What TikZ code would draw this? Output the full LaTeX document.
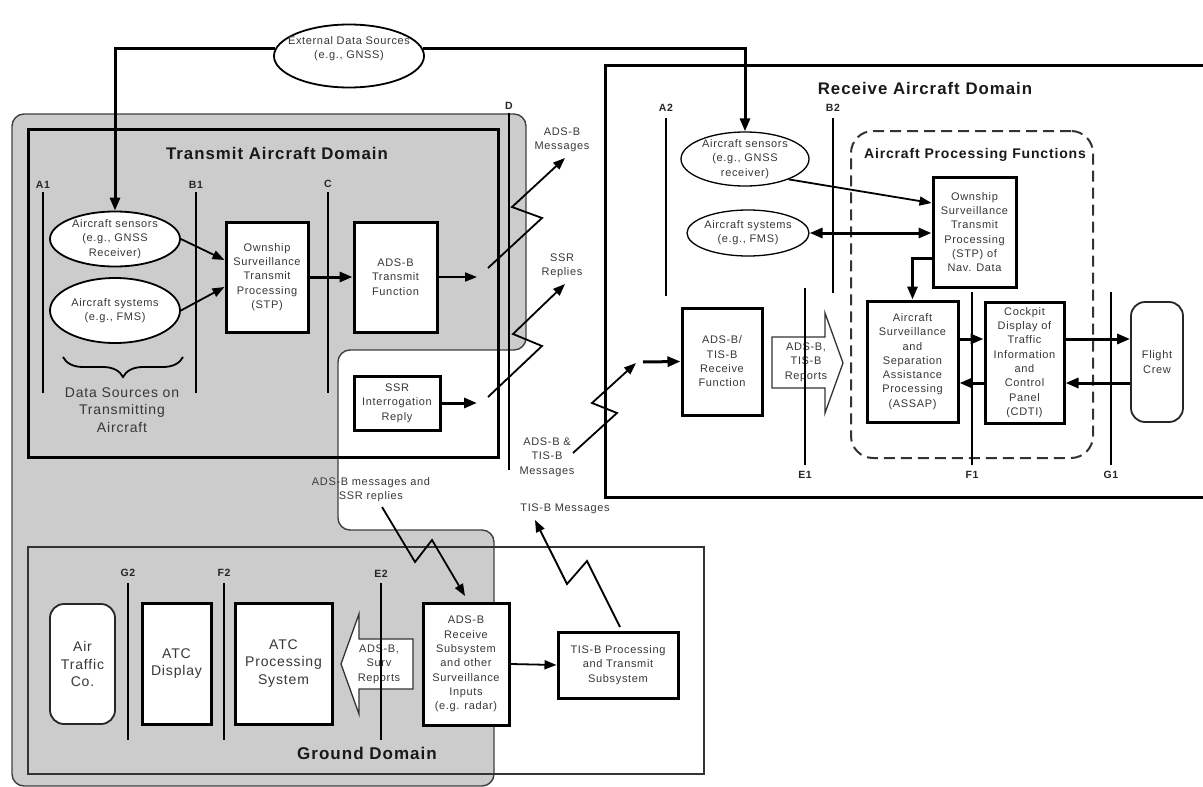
\documentclass[tikz,border=0pt]{standalone}
\usepackage{fontspec}
\setmainfont{Liberation Sans}[LetterSpace=6]
\usetikzlibrary{arrows.meta,shapes.geometric,decorations.pathreplacing,calc}
\definecolor{domaingray}{RGB}{204,204,204}
\definecolor{ink}{RGB}{55,55,55}
\newcommand\txtbody{\fontsize{11}{14.3}\selectfont}
\newcommand\txtbig{\fontsize{14}{17.5}\selectfont}
\newcommand\txttitle{\bfseries\fontsize{16.8}{20}\selectfont}
\newcommand\txtsub{\bfseries\fontsize{14}{17}\selectfont}
\newcommand\txtground{\bfseries\fontsize{17}{20}\selectfont}
\newcommand\txttag{\bfseries\fontsize{10.5}{12}\selectfont}
\tikzset{
  region/.style={draw=black!75, line width=1.4pt, fill=domaingray},
  domainbox/.style={draw=black, line width=3pt, inner sep=0pt},
  fbox/.style={draw=black, line width=3pt, fill=white, inner sep=0pt, align=center, text=ink, font=\txtbody},
  obox/.style={draw=black!85, line width=1.8pt, fill=white, rounded corners=14pt, inner sep=0pt, align=center, text=ink, font=\txtbig},
  srcell/.style={ellipse, draw=black, line width=1.8pt, fill=white, inner sep=0pt},
  lbl/.style={align=center, text=ink, font=\txtbody, inner sep=0pt},
  ttl/.style={font=\txttitle, text=black!90, inner sep=0pt},
  tag/.style={font=\txttag, text=black!85, inner sep=0pt},
  bnd/.style={draw=black, line width=2pt},
  flow/.style={draw=black, line width=1.8pt, -{Triangle[length=12pt,width=9pt]}},
  heavyflow/.style={draw=black, line width=3pt, -{Triangle[length=13pt,width=10pt]}},
  bothflow/.style={draw=black, line width=3pt, {Triangle[length=13pt,width=10pt]}-{Triangle[length=13pt,width=10pt]}},
  bigarrow/.style={draw=black!80, line width=1.3pt, fill=white},
}
\begin{document}
\begin{tikzpicture}[x=1pt,y=-1pt]
\useasboundingbox (0,0) rectangle (1203,787);

% shaded area of the aircraft and ground equipment
\draw[region, rounded corners=12pt] (12,114) -- (526,114) -- (526,350) -- (338,350)
  -- (338,530) -- (494,530) -- (494,786) -- (12,786) -- cycle;

% domains
\node[draw=black!80, line width=1.6pt, inner sep=0pt, minimum width=676pt, minimum height=227pt] (gnd) at (366,660.5) {};
\node[domainbox, minimum width=470pt, minimum height=328pt] (txd) at (263,293) {};
\node[domainbox, minimum width=610pt, minimum height=432pt] (rxd) at (910,281) {};
\node[draw=black!80, line width=2pt, dash pattern=on 11pt off 6pt, rounded corners=22pt,
  inner sep=0pt, minimum width=242pt, minimum height=327pt] (apf) at (972,294.5) {};

\node[ttl] (txdt) at (277,153) {Transmit Aircraft Domain};
\node[ttl] (rxdt) at (925,88) {Receive Aircraft Domain};
\node[ttl, font=\txtsub] (apft) at (975,155) {Aircraft Processing Functions};
\node[ttl, font=\txtground] (gndt) at (367,753) {Ground Domain};

% external source
\node[srcell, minimum width=150pt, minimum height=63pt] (ext) at (349,56) {};
\node[lbl] (extt) at (349,49) {External Data Sources\\(e.g., GNSS)};

% transmit aircraft
\node[srcell, minimum width=130pt, minimum height=55pt] (sens1) at (115,239) {};
\node[lbl] (sens1t) at (sens1) {Aircraft sensors\\(e.g., GNSS\\Receiver)};
\node[srcell, minimum width=130pt, minimum height=65pt] (sys1) at (115,310.5) {};
\node[lbl] (sys1t) at (sys1) {Aircraft systems\\(e.g., FMS)};
\node[fbox, minimum width=82pt, minimum height=110pt] (stp1) at (267,277) {Ownship\\Surveillance\\Transmit\\Processing\\(STP)};
\node[fbox, minimum width=83pt, minimum height=110pt] (adsbt) at (395.5,277) {ADS-B\\Transmit\\Function};
\node[fbox, minimum width=86pt, minimum height=54pt] (ssr) at (397,403) {SSR\\Interrogation\\Reply};
\draw[line width=1.8pt, decorate, decoration={brace, amplitude=20pt, mirror}] (63,357) -- (183,357);
\node[lbl, font=\txtbig] (dsrc) at (122,410) {Data Sources on\\Transmitting\\Aircraft};

% receive aircraft
\node[srcell, line width=1.3pt, minimum width=128pt, minimum height=54pt] (rsens) at (745,159) {};
\node[lbl] (rsenst) at (rsens) {Aircraft sensors\\(e.g., GNSS\\receiver)};
\node[srcell, line width=1.3pt, minimum width=122pt, minimum height=46pt] (rsys) at (748,233) {};
\node[lbl] (rsyst) at (rsys) {Aircraft systems\\(e.g., FMS)};
\node[fbox, minimum width=83pt, minimum height=110pt] (rstp) at (974.5,232) {Ownship\\Surveillance\\Transmit\\Processing\\(STP) of\\Nav. Data};
\node[fbox, minimum width=91pt, minimum height=121pt] (assap) at (912.5,361.5) {Aircraft\\Surveillance\\and\\Separation\\Assistance\\Processing\\(ASSAP)};
\node[fbox, minimum width=79pt, minimum height=121pt] (cdti) at (1024.5,362.5) {Cockpit\\Display of\\Traffic\\Information\\and\\Control\\Panel\\(CDTI)};
\node[obox, font=\txtbody, minimum width=52pt, minimum height=120pt] (crew) at (1157,362) {Flight\\Crew};
\node[fbox, minimum width=80pt, minimum height=107pt] (rcv) at (722,361.5) {ADS-B/\\TIS-B\\Receive\\Function};
\draw[bigarrow] (772,337) -- (825,337) -- (825,313) -- (843,363) -- (825,413) -- (825,388) -- (772,388) -- cycle;
\node[lbl] (rpt) at (806,362) {ADS-B,\\TIS-B\\Reports};

% ground
\node[obox, minimum width=65pt, minimum height=120pt] (atco) at (82.5,664) {Air\\Traffic\\Co.};
\node[fbox, font=\txtbig, minimum width=69pt, minimum height=121pt] (atcd) at (176.5,663.5) {ATC\\Display};
\node[fbox, font=\txtbig, minimum width=97pt, minimum height=121pt] (atcp) at (283.5,663.5) {ATC\\Processing\\System};
\node[fbox, minimum width=86pt, minimum height=122pt] (grcv) at (466,664) {ADS-B\\Receive\\Subsystem\\and other\\Surveillance\\Inputs\\(e.g. radar)};
\node[fbox, minimum width=120pt, minimum height=66pt] (tisb) at (618,665) {TIS-B Processing\\and Transmit\\Subsystem};
\draw[bigarrow] (413,639) -- (359,639) -- (359,614) -- (341,664) -- (359,714) -- (359,689) -- (413,689) -- cycle;
\node[lbl] (gpt) at (379,664) {ADS-B,\\Surv\\Reports};

% radio link labels
\node[lbl] (m1) at (562,140) {ADS-B\\Messages};
\node[lbl] (m2) at (562,266) {SSR\\Replies};
\node[lbl] (m3) at (547,457) {ADS-B \&\\TIS-B\\Messages};
\node[lbl] (m4) at (371,490) {ADS-B messages and\\SSR replies};
\node[lbl] (m5) at (565,509) {TIS-B Messages};

% free ends of the radio links
\coordinate (adsbout) at (477,277);
\coordinate (ssrout) at (477,403);
\coordinate (z1s) at (488,268);  \coordinate (z1e) at (565,158);
\coordinate (z2s) at (488,397);  \coordinate (z2e) at (565,284);
\coordinate (z3s) at (573,453);  \coordinate (z3e) at (636,363);
\coordinate (z4s) at (382,507);  \coordinate (z4e) at (465,596);
\coordinate (z5s) at (620,627);  \coordinate (z5e) at (535,520);
\coordinate (rin) at (643,362);
\coordinate (lvlA) at (0,339);
\coordinate (lvlB) at (0,383);

% data flows
\draw[heavyflow] (ext.174) -| (sens1.north);
\draw[heavyflow] (ext.6) -| (rsens.north);
\draw[flow] (sens1.east) -- ($(stp1.west)+(0,-17)$);
\draw[flow] (sys1.east) -- ($(stp1.west)+(0,10)$);
\draw[heavyflow] (stp1.east) -- (adsbt.west);
\draw[flow] (adsbt.east) -- (adsbout);
\draw[heavyflow] (ssr.east) -- (ssrout);
\draw[flow] (z1s) -- ++(54,-50) -- ++(-30,-11) -- (z1e);
\draw[flow] (z2s) -- ++(54,-51) -- ++(-29,-12) -- (z2e);
\draw[flow] (z3s) -- ++(44,-40) -- ++(-25,-10) -- (z3e);
\draw[flow] (z4s) -- ++(33,55) -- ++(17,-22) -- (z4e);
\draw[flow] (z5s) -- ++(-33,-66) -- ++(-20,23) -- (z5e);
\draw[heavyflow] (rin) -- (rcv.west);
\draw[flow] (rsens.-25) -- ($(rstp.west)+(0,-29)$);
\draw[bothflow] (rsys.east) -- (rstp.west |- rsys.east);
\draw[heavyflow] ($(rstp.west)+(0,26)$) -| (assap.north);
\draw[heavyflow] (assap.east |- lvlA) -- (cdti.west |- lvlA);
\draw[heavyflow] (cdti.west |- lvlB) -- (assap.east |- lvlB);
\draw[heavyflow] (cdti.east |- lvlA) -- (crew.west |- lvlA);
\draw[heavyflow] (crew.west |- lvlB) -- (cdti.east |- lvlB);
\draw[flow] (grcv.east) -- (tisb.west);

% reference points
\node[tag] (tA1) at (43,185) {A1};
\node[tag] (tB1) at (196,185) {B1};
\node[tag] (tC) at (328,184) {C};
\node[tag] (tD) at (509,106) {D};
\node[tag] (tA2) at (666,108) {A2};
\node[tag] (tB2) at (833,108) {B2};
\node[tag] (tE1) at (805,475) {E1};
\node[tag] (tF1) at (972,475) {F1};
\node[tag] (tG1) at (1111,475) {G1};
\node[tag] (tG2) at (128,573) {G2};
\node[tag] (tF2) at (224,573) {F2};
\node[tag] (tE2) at (381,574) {E2};
\draw[bnd] (43,192) -- (43,393);
\draw[bnd] (196,192) -- (196,393);
\draw[bnd] (328,192) -- (328,393);
\draw[bnd] (509,113) -- (509,470);
\draw[bnd] (666,118) -- (666,296);
\draw[bnd] (833,118) -- (833,293);
\draw[bnd] (805,288) -- (805,465);
\draw[bnd] (972,292) -- (972,465);
\draw[bnd] (1111,292) -- (1111,465);
\draw[bnd] (128,583) -- (128,740);
\draw[bnd] (224,583) -- (224,740);
\draw[bnd] (381,583) -- (381,740);
\end{tikzpicture}
\end{document}
